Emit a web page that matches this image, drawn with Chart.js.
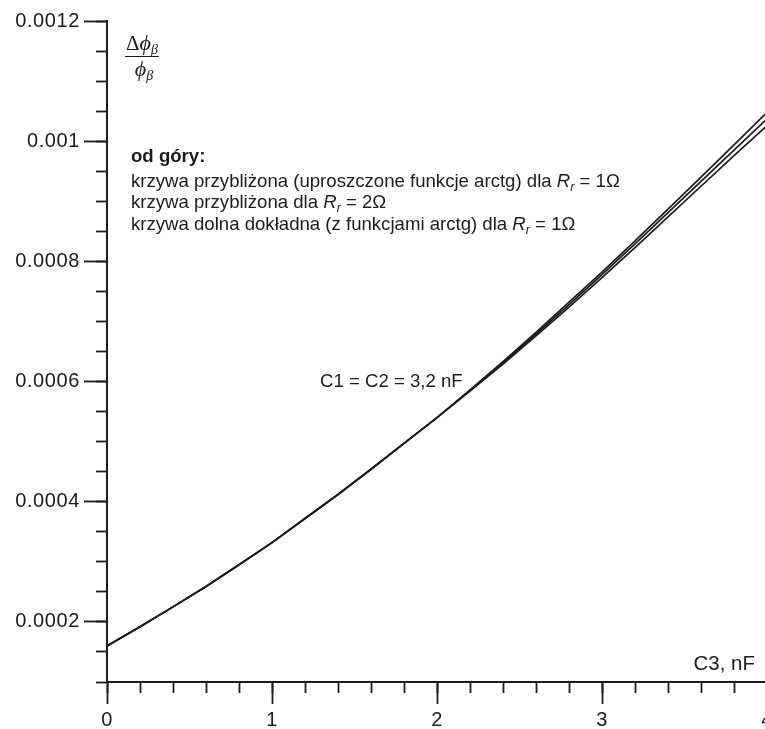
<!DOCTYPE html>
<html>
<head>
<meta charset="utf-8">
<script src="https://cdn.jsdelivr.net/npm/chart.js@4.4.1/dist/chart.umd.min.js"></script>
<style>
  html, body { margin: 0; padding: 0; background: #fff; overflow: hidden; width: 765px; height: 729px; }
  #wrap { position: absolute; left: 0; top: 0; width: 765px; height: 729px; overflow: hidden; }
  canvas { display: block; }
</style>
</head>
<body>
<div id="wrap"><canvas id="c" width="790" height="729"></canvas></div>
<script>
// ---------------- data ----------------
const xValues = [0, 0.2, 0.4, 0.6, 0.8, 1.0, 1.2, 1.4, 1.6, 1.8, 2.0, 2.2, 2.4, 2.6, 2.8, 3.0, 3.2, 3.4, 3.6, 3.8, 4.0];

// krzywa przybliżona (uproszczone funkcje arctg), Rr = 1 Ω  (top)
const approxR1 = [0.000160, 0.000192, 0.000225, 0.000259, 0.000295, 0.000332, 0.000372, 0.000412, 0.000454, 0.000497, 0.000540,
                  0.000586, 0.000633, 0.000682, 0.000732, 0.000782, 0.000834, 0.000887, 0.000940, 0.000994, 0.001048];
// krzywa przybliżona, Rr = 2 Ω  (middle)
const approxR2 = [0.000160, 0.000192, 0.000225, 0.000259, 0.000295, 0.000332, 0.000372, 0.000412, 0.000454, 0.000497, 0.000540,
                  0.000585, 0.000631, 0.000679, 0.000728, 0.000778, 0.000829, 0.000881, 0.000933, 0.000985, 0.001037];
// krzywa dolna dokładna (z funkcjami arctg), Rr = 1 Ω  (bottom)
const exactR1  = [0.000160, 0.000192, 0.000225, 0.000259, 0.000295, 0.000332, 0.000372, 0.000412, 0.000454, 0.000497, 0.000540,
                  0.000584, 0.000629, 0.000676, 0.000724, 0.000773, 0.000823, 0.000874, 0.000925, 0.000976, 0.001026];

const xMajorTicks = [0, 1, 2, 3, 4];
const xTickLabels = ['0', '1', '2', '3', '4'];
const xMinorTicks = [0, 0.2, 0.4, 0.6, 0.8, 1, 1.2, 1.4, 1.6, 1.8, 2, 2.2, 2.4, 2.6, 2.8, 3, 3.2, 3.4, 3.6, 3.8, 4];

const yMajorTicks = [0.0002, 0.0004, 0.0006, 0.0008, 0.001, 0.0012];
const yTickLabels = ['0.0002', '0.0004', '0.0006', '0.0008', '0.001', '0.0012'];
const yMinorTicks = [0.0001, 0.00015, 0.0002, 0.00025, 0.0003, 0.00035, 0.0004, 0.00045, 0.0005, 0.00055, 0.0006, 0.00065,
                     0.0007, 0.00075, 0.0008, 0.00085, 0.0009, 0.00095, 0.001, 0.00105, 0.0011, 0.00115, 0.0012];

const xMin = 0, xMax = 4, yMin = 0.0001, yMax = 0.0012;

// ---------------- styling ----------------
const INK = '#1c1c1c';
const SANS = '"Liberation Sans", Arial, Helvetica, sans-serif';
const SERIF = '"Liberation Serif", "Times New Roman", serif';
const TXT = '18.6px ' + SANS;
const TXT_I = 'italic 18.6px ' + SANS;
const TXT_SUB = 'italic 12.5px ' + SANS;

const CANVAS_H = 729;
const AREA_LEFT = 107, AREA_TOP = 21, AREA_BOTTOM = 682, AREA_RIGHT_PAD = 23;

// annotation texts, anchored in data coordinates
const annotations = [
  { x: 0.1455, y: 0.0009659, align: 'left', segs: [{ t: 'od góry:', f: 'bold 18.6px ' + SANS }] },
  { x: 0.1455, y: 0.0009243, align: 'left', segs: [
      { t: 'krzywa przybliżona (uproszczone funkcje arctg) dla ', f: TXT },
      { t: 'R', f: TXT_I }, { t: 'r', f: TXT_SUB, dy: 4 }, { t: ' = 1Ω', f: TXT }] },
  { x: 0.1455, y: 0.0008883, align: 'left', segs: [
      { t: 'krzywa przybliżona dla ', f: TXT },
      { t: 'R', f: TXT_I }, { t: 'r', f: TXT_SUB, dy: 4 }, { t: ' = 2Ω', f: TXT }] },
  { x: 0.1455, y: 0.0008522, align: 'left', segs: [
      { t: 'krzywa dolna dokładna (z funkcjami arctg) dla ', f: TXT },
      { t: 'R', f: TXT_I }, { t: 'r', f: TXT_SUB, dy: 4 }, { t: ' = 1Ω', f: TXT }] },
  { x: 1.291, y: 0.0005914, align: 'left', segs: [{ t: 'C1 = C2 = 3,2 nF', f: TXT }] },
  { x: 3.927, y: 0.00012, align: 'right', segs: [{ t: 'C3, nF', f: '20.5px ' + SANS }] }
];
// y-axis quantity label: Δφβ / φβ
const fraction = {
  x: 0.2121, y: 0.0011418,
  num: [{ t: 'Δ', f: '21px ' + SERIF }, { t: 'ϕ', f: 'italic 22px ' + SERIF }, { t: 'β', f: 'italic 14px ' + SERIF, dy: 4 }],
  den: [{ t: 'ϕ', f: 'italic 22px ' + SERIF }, { t: 'β', f: 'italic 14px ' + SERIF, dy: 4 }]
};

function toPoints(ys) { return xValues.map((x, i) => ({ x: x, y: ys[i] })); }

function segWidth(ctx, segs) {
  let w = 0;
  for (const s of segs) { ctx.font = s.f; w += ctx.measureText(s.t).width; }
  return w;
}
function drawRich(ctx, x, y, segs, align) {
  const total = segWidth(ctx, segs);
  let cx = align === 'right' ? x - total : (align === 'center' ? x - total / 2 : x);
  for (const s of segs) {
    ctx.font = s.f;
    ctx.fillText(s.t, cx, y + (s.dy || 0));
    cx += ctx.measureText(s.t).width;
  }
  return total;
}

const spacingPlugin = {
  id: 'tickSpacing',
  beforeDraw(chart) { chart.ctx.letterSpacing = '0.6px'; },
  beforeDatasetsDraw(chart) { chart.ctx.letterSpacing = '0px'; }
};

const textPlugin = {
  id: 'texts',
  afterDraw(chart) {
    const ctx = chart.ctx;
    const xs = chart.scales.x, ys = chart.scales.y;
    ctx.save();
    ctx.letterSpacing = '0px';
    ctx.fillStyle = INK;
    ctx.textBaseline = 'alphabetic';
    ctx.textAlign = 'left';
    for (const a of annotations) {
      drawRich(ctx, xs.getPixelForValue(a.x), ys.getPixelForValue(a.y), a.segs, a.align);
    }
    // fraction
    const fx = xs.getPixelForValue(fraction.x), fy = ys.getPixelForValue(fraction.y);
    const wn = segWidth(ctx, fraction.num);
    drawRich(ctx, fx, fy - 6, fraction.num, 'center');
    drawRich(ctx, fx + 2, fy + 20, fraction.den, 'center');
    ctx.strokeStyle = INK;
    ctx.lineWidth = 1;
    ctx.beginPath();
    ctx.moveTo(fx - wn / 2 - 1, Math.round(fy) + 0.5);
    ctx.lineTo(fx + wn / 2 + 1, Math.round(fy) + 0.5);
    ctx.stroke();
    ctx.restore();
  }
};

const tickFont = { family: SANS, size: 20 };
const lineStyle = { borderColor: INK, borderWidth: 1.7, pointRadius: 0, fill: false, tension: 0 };

new Chart(document.getElementById('c'), {
  type: 'line',
  data: {
    datasets: [
      Object.assign({ label: 'krzywa przybliżona (uproszczone funkcje arctg) dla Rr = 1Ω', data: toPoints(approxR1) }, lineStyle),
      Object.assign({ label: 'krzywa przybliżona dla Rr = 2Ω', data: toPoints(approxR2) }, lineStyle),
      Object.assign({ label: 'krzywa dolna dokładna (z funkcjami arctg) dla Rr = 1Ω', data: toPoints(exactR1) }, lineStyle)
    ]
  },
  options: {
    responsive: false,
    animation: false,
    devicePixelRatio: 1,
    layout: { padding: { left: 0, top: AREA_TOP, right: AREA_RIGHT_PAD, bottom: 0 } },
    plugins: { legend: { display: false }, tooltip: { enabled: false }, title: { display: false } },
    scales: {
      x: {
        type: 'linear', position: 'bottom', min: xMin, max: xMax,
        afterFit(s) { s.height = CANVAS_H - AREA_BOTTOM; },
        afterBuildTicks(s) { s.ticks = xMajorTicks.map(v => ({ value: v })); },
        ticks: { callback: (v, i) => xTickLabels[i], font: tickFont, color: INK, padding: 4, maxRotation: 0, autoSkip: false },
        grid: { drawOnChartArea: false, drawTicks: true, tickLength: 22, tickWidth: 1.8, tickColor: INK },
        border: { display: true, color: INK, width: 2 }
      },
      xMinor: {
        type: 'linear', axis: 'x', position: { y: yMin }, min: xMin, max: xMax,
        afterFit(s) { s.height = 0; },
        afterBuildTicks(s) { s.ticks = xMinorTicks.map(v => ({ value: v })); },
        ticks: { display: false },
        grid: { drawOnChartArea: false, drawTicks: true, tickLength: 11, tickWidth: 1.8, tickColor: INK },
        border: { display: false }
      },
      y: {
        type: 'linear', position: 'left', min: yMin, max: yMax,
        afterFit(s) { s.width = AREA_LEFT; },
        afterBuildTicks(s) { s.ticks = yMajorTicks.map(v => ({ value: v })); },
        ticks: { callback: (v, i) => yTickLabels[i], font: tickFont, color: INK, padding: 4, autoSkip: false },
        grid: { drawOnChartArea: false, drawTicks: true, tickLength: 23, tickWidth: 1.8, tickColor: INK },
        border: { display: true, color: INK, width: 2 }
      },
      yMinor: {
        type: 'linear', axis: 'y', position: { x: xMin }, min: yMin, max: yMax,
        afterFit(s) { s.width = 0; },
        afterBuildTicks(s) { s.ticks = yMinorTicks.map(v => ({ value: v })); },
        ticks: { display: false },
        grid: { drawOnChartArea: false, drawTicks: true, tickLength: 11, tickWidth: 1.8, tickColor: INK },
        border: { display: false }
      }
    }
  },
  plugins: [spacingPlugin, textPlugin]
});
</script>
</body>
</html>
